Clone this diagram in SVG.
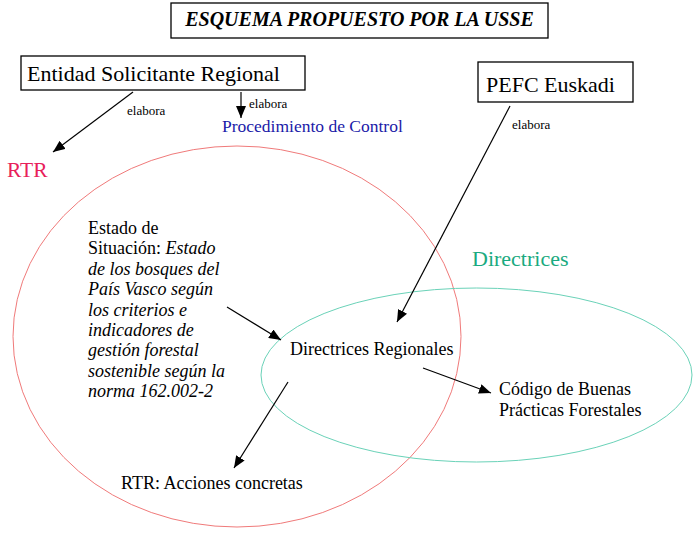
<svg xmlns="http://www.w3.org/2000/svg" width="700" height="536" viewBox="0 0 700 536" font-family="'Liberation Serif', 'DejaVu Serif', 'Noto Serif', serif">
<style>
text{font-family:'Liberation Serif','DejaVu Serif','Noto Serif',serif}
.box{fill:#fff;stroke:#000;stroke-width:1.3}
.conn{stroke:#000;stroke-width:1.2;fill:none;marker-end:url(#ah)}
.lbl{font-size:13px}
.body{font-size:18px}
.it{font-style:italic}
</style>
<defs>
<marker id="ah" markerWidth="12" markerHeight="10" refX="12" refY="5" orient="auto" markerUnits="userSpaceOnUse">
<path d="M0,0 L12,5 L0,10 z" fill="#000"/>
</marker>
</defs>
<rect width="700" height="536" fill="#fff"/>
<g id="sets">
<ellipse id="set-rtr" cx="237" cy="336.5" rx="224" ry="190.5" fill="none" stroke="#f07a7a" stroke-width="1"/>
<ellipse id="set-directrices" cx="476.5" cy="375" rx="215.5" ry="87" fill="none" stroke="#6ad2b8" stroke-width="1"/>
</g>
<g id="title">
<rect class="box" x="171" y="3" width="377" height="35"/>
<text x="359.5" y="26" font-size="20" font-weight="bold" font-style="italic" text-anchor="middle">ESQUEMA PROPUESTO POR LA USSE</text>
</g>
<g id="entidad">
<rect class="box" x="21" y="56" width="284" height="34"/>
<text x="27" y="81" font-size="22">Entidad Solicitante Regional</text>
</g>
<g id="pefc">
<rect class="box" x="478" y="62" width="155" height="40"/>
<text x="486" y="92" font-size="22">PEFC Euskadi</text>
</g>
<g id="procedimiento">
<text x="222" y="132" font-size="17.5" fill="#1a1aa8">Procedimiento de Control</text>
</g>
<g id="rtr-label">
<text x="7" y="177" font-size="21.5" fill="#e8205a">RTR</text>
</g>
<g id="directrices-label">
<text x="472" y="266" font-size="22" fill="#1aaa80">Directrices</text>
</g>
<g id="estado">
<text class="body" x="88" y="234">Estado de</text>
<text class="body" x="88" y="254.4">Situación: <tspan class="it">Estado</tspan></text>
<text class="body it" x="88" y="274.8">de los bosques del</text>
<text class="body it" x="88" y="295.2">País Vasco según</text>
<text class="body it" x="88" y="315.6">los criterios e</text>
<text class="body it" x="88" y="336">indicadores de</text>
<text class="body it" x="88" y="356.4">gestión forestal</text>
<text class="body it" x="88" y="376.8">sostenible según la</text>
<text class="body it" x="88" y="397.2">norma 162.002-2</text>
</g>
<g id="directrices-regionales">
<text class="body" x="290" y="355">Directrices Regionales</text>
</g>
<g id="codigo">
<text class="body" x="499" y="395">Código de Buenas</text>
<text class="body" x="499" y="416">Prácticas Forestales</text>
</g>
<g id="rtr-acciones">
<text class="body" x="121" y="489">RTR: Acciones concretas</text>
</g>
<g id="connectors">
<line class="conn" x1="133" y1="92" x2="53" y2="152"/>
<line class="conn" x1="241" y1="92" x2="241" y2="118"/>
<line class="conn" x1="510" y1="106" x2="397" y2="322"/>
<line class="conn" x1="227" y1="307" x2="281" y2="340"/>
<line class="conn" x1="288" y1="382" x2="234" y2="468"/>
<line class="conn" x1="423" y1="368" x2="491" y2="393"/>
<text class="lbl" x="127" y="115">elabora</text>
<text class="lbl" x="249" y="108">elabora</text>
<text class="lbl" x="512" y="129">elabora</text>
</g>
</svg>
